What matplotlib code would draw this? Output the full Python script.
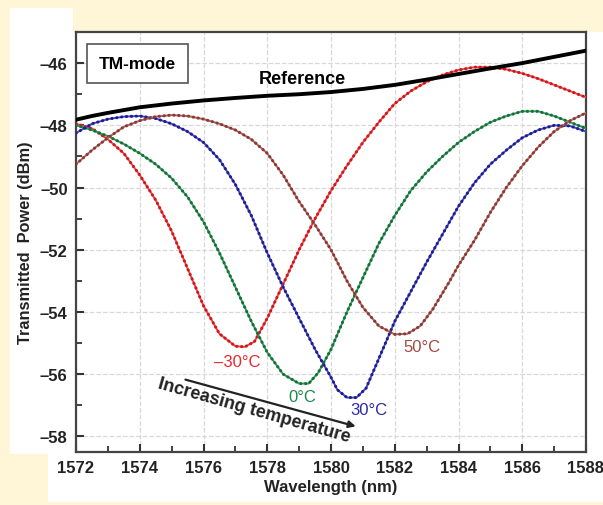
import matplotlib.pyplot as plt
from matplotlib.patches import Rectangle
import numpy as np

plt.rcParams['font.family'] = ['Liberation Sans', 'DejaVu Sans']

# datos
ref_wl = [1572, 1572.5, 1573, 1574, 1575, 1576, 1577, 1578, 1579, 1580, 1581, 1582,
          1583, 1584, 1585, 1586, 1587, 1588]
ref_p = [-47.82, -47.7, -47.6, -47.42, -47.3, -47.2, -47.12, -47.05, -47.0, -46.93,
         -46.83, -46.7, -46.53, -46.35, -46.17, -46.0, -45.8, -45.6]

m30_wl = [1572, 1572.5, 1573, 1573.5, 1574, 1574.5, 1575, 1575.5, 1576, 1576.5, 1577,
          1577.3, 1577.6, 1578, 1578.5, 1579, 1579.5, 1580, 1580.5, 1581, 1581.5, 1582,
          1582.5, 1583, 1583.5, 1584, 1584.5, 1585, 1585.5, 1586, 1586.5, 1587, 1587.5, 1588]
m30_p = [-47.95, -48.1, -48.45, -48.9, -49.6, -50.4, -51.4, -52.6, -53.8, -54.7, -55.1,
         -55.12, -54.95, -54.2, -53.1, -52.0, -51.0, -50.1, -49.3, -48.55, -47.9, -47.3,
         -46.9, -46.6, -46.38, -46.22, -46.13, -46.13, -46.2, -46.33, -46.5, -46.7, -46.9, -47.1]

c0_wl = [1572, 1572.5, 1573, 1573.5, 1574, 1574.5, 1575, 1575.5, 1576, 1576.5, 1577,
         1577.5, 1578, 1578.5, 1579, 1579.3, 1579.6, 1580, 1580.5, 1581, 1581.5, 1582,
         1582.5, 1583, 1583.5, 1584, 1584.5, 1585, 1585.5, 1586, 1586.5, 1587, 1587.5, 1588]
c0_p = [-48.0, -48.15, -48.35, -48.6, -48.9, -49.25, -49.7, -50.3, -51.1, -52.1, -53.2,
        -54.3, -55.3, -56.0, -56.3, -56.3, -55.95, -55.2, -54.0, -52.9, -51.8, -50.9,
        -50.1, -49.5, -49.0, -48.55, -48.2, -47.9, -47.7, -47.55, -47.55, -47.7, -47.9, -48.1]

c30_wl = [1572, 1572.5, 1573, 1573.5, 1574, 1574.5, 1575, 1575.5, 1576, 1576.5, 1577,
          1577.5, 1578, 1578.5, 1579, 1579.5, 1580, 1580.2, 1580.5, 1580.8, 1581.1, 1581.5,
          1582, 1582.5, 1583, 1583.5, 1584, 1584.5, 1585, 1585.5, 1586, 1586.5, 1587,
          1587.5, 1588]
c30_p = [-48.25, -47.95, -47.8, -47.72, -47.7, -47.78, -47.95, -48.2, -48.55, -49.1, -49.9,
         -50.9, -52.1, -53.2, -54.2, -55.2, -56.1, -56.5, -56.75, -56.75, -56.45, -55.5,
         -54.3, -53.35, -52.4, -51.5, -50.6, -49.85, -49.25, -48.8, -48.4, -48.15, -48.0,
         -48.02, -48.2]

c50_wl = [1572, 1572.5, 1573, 1573.5, 1574, 1574.5, 1575, 1575.5, 1576, 1576.5, 1577,
          1577.5, 1578, 1578.5, 1579, 1579.5, 1580, 1580.5, 1581, 1581.5, 1582, 1582.4,
          1582.8, 1583.2, 1583.7, 1584, 1584.5, 1585, 1585.5, 1586, 1586.5, 1587, 1587.5, 1588]
c50_p = [-49.25, -48.8, -48.4, -48.05, -47.85, -47.72, -47.67, -47.7, -47.8, -47.95, -48.15,
         -48.45, -48.9, -49.6, -50.45, -51.2, -52.0, -53.0, -53.85, -54.45, -54.72, -54.7,
         -54.45, -53.9, -53.05, -52.5, -51.7, -50.8, -50.0, -49.3, -48.7, -48.2, -47.85, -47.6]

fig = plt.figure(figsize=(6.03, 5.06), dpi=100, facecolor='#fff6d8')

# zonas blancas del fondo (en pixeles)
W, H = 603, 506
def caja(x0, y0, x1, y1):
    fig.patches.append(Rectangle((x0 / W, 1 - y1 / H), (x1 - x0) / W, (y1 - y0) / H,
                                 transform=fig.transFigure, facecolor='white',
                                 edgecolor='none', zorder=-5))
caja(10, 33, 603, 455)
caja(48, 455, 603, 503)
caja(10, 9, 73, 33)

ax = fig.add_axes([76 / W, 1 - 453 / H, 510 / W, 420 / H])
ax.set_zorder(2)

def curva(x, y, color, dark):
    ax.plot(x, y, color=color, lw=1.4, zorder=3)
    ax.plot(x, y, color=dark, lw=2.2, linestyle=(0, (0.1, 1.5)),
            dash_capstyle='round', zorder=3)

curva(m30_wl, m30_p, '#f0484a', '#d0181c')
curva(c0_wl, c0_p, '#3a9a5c', '#15703a')
curva(c30_wl, c30_p, '#4a4ac0', '#1e1e90')
curva(c50_wl, c50_p, '#b06660', '#8a3a34')
ax.plot(ref_wl, ref_p, color='black', lw=2.8, zorder=4)

ax.set_xlim(1572, 1588)
ax.set_ylim(-58.5, -45)
ax.set_xticks(np.arange(1572, 1589, 2))
ax.set_xticks(np.arange(1573, 1588, 2), minor=True)
ax.set_yticks(np.arange(-58, -45, 2))
ax.set_yticks(np.arange(-57, -45, 2), minor=True)
ax.set_yticklabels(['\u201358', '\u201356', '\u201354', '\u201352', '\u201350', '\u201348', '\u201346'])
ax.tick_params(which='major', direction='in', length=6, width=1.5, color='#333333',
               labelsize=12, pad=6)
ax.tick_params(which='minor', direction='in', length=4, width=1.3, color='#333333')
for lab in ax.get_xticklabels() + ax.get_yticklabels():
    lab.set_fontweight('bold')
    lab.set_color('#222222')
ax.grid(True, which='major', color='#d8d8d8', linestyle='--', lw=0.9)
for s in ax.spines.values():
    s.set_color('#444444')
    s.set_linewidth(1.6)

ax.set_xlabel('Wavelength (nm)', fontsize=12, fontweight='bold', color='#222222', labelpad=3)
ax.set_ylabel('Transmitted  Power (dBm)', fontsize=11.8, fontweight='bold', color='#222222', labelpad=5)

ax.text(0.045, 0.925, 'TM-mode', transform=ax.transAxes, fontsize=12.5, fontweight='bold',
        va='center', ha='left',
        bbox=dict(boxstyle='square,pad=0.7', facecolor='white', edgecolor='#555555', lw=1.2))
ax.text(1579.1, -46.5, 'Reference', fontsize=13, fontweight='bold', ha='center', va='center',
        zorder=5)

ax.text(1577.05, -55.6, '\u201330\u00b0C', color='#e8282a', fontsize=12, ha='center', va='center')
ax.text(1579.1, -56.7, '0\u00b0C', color='#1a8a4a', fontsize=12, ha='center', va='center')
ax.text(1581.2, -57.13, '30\u00b0C', color='#2a2aa8', fontsize=12, ha='center', va='center')
ax.text(1582.85, -55.1, '50\u00b0C', color='#a04a40', fontsize=12, ha='center', va='center')

ax.annotate('', xy=(1580.86, -57.7), xytext=(1575.35, -56.15),
            arrowprops=dict(arrowstyle='-|>', color='#222222', lw=1.6, mutation_scale=10))
ax.text(1577.6, -57.15, 'Increasing temperature', fontsize=13, fontweight='bold',
        rotation=-15.8, rotation_mode='anchor', ha='center', va='center', color='#222222')

fig.savefig('out.png', dpi=100, facecolor=fig.get_facecolor())
